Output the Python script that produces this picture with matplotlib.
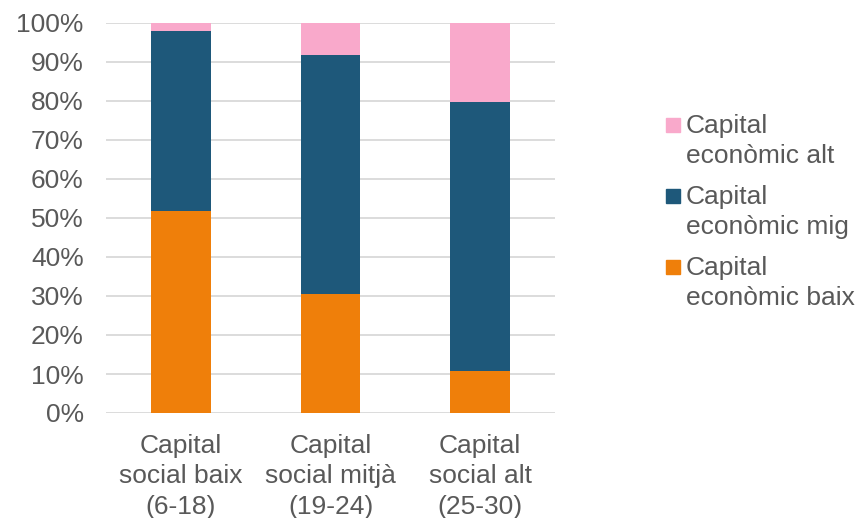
import matplotlib as mpl
mpl.use("agg")
import matplotlib.pyplot as plt
from matplotlib.patches import Rectangle
import numpy as np

categories = ["Capital\nsocial baix\n(6-18)", "Capital\nsocial mitjà\n(19-24)", "Capital\nsocial alt\n(25-30)"]
baix = [51.9, 30.6, 10.7]
mig = [46.1, 61.3, 69.1]
alt = [2.0, 8.1, 20.2]
series_names = ["Capital\neconòmic baix", "Capital\neconòmic mig", "Capital\neconòmic alt"]
colors = ["#ef7f0a", "#1e587a", "#f9a9cb"]
yticks = [0, 10, 20, 30, 40, 50, 60, 70, 80, 90, 100]

plt.rcParams['font.family'] = ['Liberation Sans', 'DejaVu Sans']
text_color = "#595959"
fs = 19

fig = plt.figure(figsize=(8.58, 5.18), dpi=100)
ax = fig.add_axes([106 / 858, 1 - 413 / 518, (555 - 106) / 858, (413 - 23) / 518])

x = np.arange(len(categories))
bottom = np.zeros(len(categories))
for vals, col in zip([baix, mig, alt], colors):
    ax.bar(x, vals, width=0.4, bottom=bottom, color=col, zorder=3)
    bottom += np.array(vals)

ax.set_xlim(-0.5, 2.5)
ax.set_ylim(0, 100)
ax.set_yticks(yticks)
ax.set_yticklabels([f"{v}%" for v in yticks])
ax.set_xticks(x)
ax.set_xticklabels(categories, linespacing=1.34)
ax.tick_params(axis='y', length=0, pad=16, labelsize=fs, labelcolor=text_color)
ax.tick_params(axis='x', length=0, pad=15, labelsize=fs, labelcolor=text_color)
ax.grid(axis='y', color="#d9d9d9", linewidth=1.3, zorder=0)
for s in ax.spines.values():
    s.set_visible(False)

# legend drawn by hand so the square sits on the first line
leg_names = series_names[::-1]
leg_colors = colors[::-1]
for i, (name, col) in enumerate(zip(leg_names, leg_colors)):
    yc = 125 + i * 71
    fig.patches.append(Rectangle((666 / 858, 1 - (yc + 7) / 518), 14 / 858, 14 / 518,
                                 transform=fig.transFigure, color=col))
    fig.text(686 / 858, 1 - (yc - 11) / 518, name, va='top', ha='left',
             fontsize=fs, color=text_color, linespacing=1.34)

plt.savefig("out.png", dpi=100)
